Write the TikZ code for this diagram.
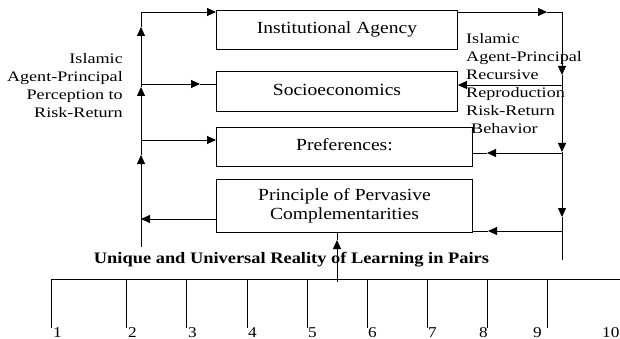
\documentclass[tikz,border=0pt]{standalone}
\usepackage{fontspec}
\setmainfont[FakeStretch=1.25]{Liberation Serif}
\newfontfamily\boxfont[FakeStretch=1.15]{Liberation Serif}
\usetikzlibrary{arrows.meta}
\begin{document}
\begin{tikzpicture}[x=1pt,y=-1pt,
  box/.style={draw,line width=0.9pt,inner sep=0,anchor=north west,align=center,
    font=\boxfont\fontsize{17}{19}\selectfont},
  conn/.style={line width=0.9pt},
  arr/.style={line width=0.9pt,-{Triangle[length=9pt,width=8pt]}},
  lbl/.style={font=\fontsize{14.5}{18}\selectfont,inner sep=0},
  num/.style={font=\boxfont\fontsize{15}{18}\selectfont,inner sep=0,anchor=base west},
  captxt/.style={font=\boxfont\bfseries\fontsize{16}{18}\selectfont,inner sep=0,anchor=base}]
\useasboundingbox (0,0) rectangle (620,339);

% boxes
\node[box,minimum width=241pt,minimum height=39pt,text height=11pt,text depth=3.5pt] (inst) at (216,10) {Institutional Agency};
\node[box,minimum width=241pt,minimum height=40pt,text height=11pt,text depth=3.5pt] (socio) at (216,71) {Socioeconomics};
\node[box,minimum width=256pt,minimum height=39pt,text height=11pt,text depth=3.5pt] (pref) at (216,127) {Preferences:};
\node[box,minimum width=256pt,minimum height=53pt] (princ) at (216,179) {Principle of Pervasive\\Complementarities};

% labels
\node[lbl,anchor=north east,align=right] (llab) at (123,53) {Islamic\\Agent-Principal\\Perception to\\Risk-Return};
\node[lbl,anchor=north west,align=left] (rlab) at (466,33) {Islamic\\Agent-Principal\\Recursive\\Reproduction\\Risk-Return\\\hspace{5pt}Behavior};

% left loop
\coordinate (L0) at (141,12);
\coordinate (La1) at (141,27);
\coordinate (La2) at (141,87);
\coordinate (La3) at (141,155);
\coordinate (Lb) at (141,247);
\coordinate (Ls) at (141,84);
\coordinate (Sa) at (200,84);
\coordinate (Lp) at (141,140);
\coordinate (Lq) at (141,219);
\draw[arr] (Lb) -- (La3);
\draw[arr] (La3) -- (La2);
\draw[arr] (La2) -- (La1);
\draw[conn] (La1) -- (L0);
\draw[arr] (L0) -- (L0 -| inst.west);
\draw[arr] (Ls) -- (Sa);
\draw[conn] (Sa) -- (Ls -| socio.west);
\draw[arr] (Lp) -- (Lp -| pref.west);
\draw[arr] (princ.west |- Lq) -- (Lq);

% right loop
\coordinate (R0) at (562,12);
\coordinate (Ra0) at (547,12);
\coordinate (Rd1) at (562,75);
\coordinate (Rd2) at (562,152);
\coordinate (Rd3) at (562,217);
\coordinate (Rb) at (562,260);
\coordinate (Rs) at (562,85);
\coordinate (Rp) at (562,153);
\coordinate (Rpa) at (487,153);
\coordinate (Rq) at (562,231);
\coordinate (Rqa) at (488,231);
\draw[arr] (inst.east |- R0) -- (Ra0);
\draw[conn] (Ra0) -- (R0);
\draw[arr] (R0) -- (Rd1);
\draw[arr] (Rd1) -- (Rd2);
\draw[arr] (Rd2) -- (Rd3);
\draw[conn] (Rd3) -- (Rb);
\draw[arr] (Rs) -- (Rs -| socio.east);
\draw[arr] (Rp) -- (Rpa);
\draw[conn] (Rpa) -- (Rp -| pref.east);
\draw[arr] (Rq) -- (Rqa);
\draw[conn] (Rqa) -- (Rq -| princ.east);

% caption and middle arrow
\node[captxt] (caption) at (291.5,263) {Unique and Universal Reality of Learning in Pairs};
\coordinate (M0) at (337,282);
\coordinate (Ma) at (337,240);
\draw[arr] (M0) -- (Ma);
\draw[conn] (Ma) -- (Ma |- princ.south);

% scale
\coordinate (B0) at (51,279);
\coordinate (B1) at (620,279);
\draw[conn] (B0) -- (B1);
\foreach \x [count=\i] in {51,126,186,247,307,367,427,487,547} {
  \coordinate (t\i) at (\x,279);
  \coordinate (tb\i) at (\x,328);
  \draw[conn] (t\i) -- (tb\i);
}
\foreach \x/\t in {53/1,128/2,188/3,248/4,308/5,368/6,428/7,479/8,533/9,602/10} {
  \node[num] (n\t) at (\x,337) {\t};
}
\end{tikzpicture}
\end{document}
